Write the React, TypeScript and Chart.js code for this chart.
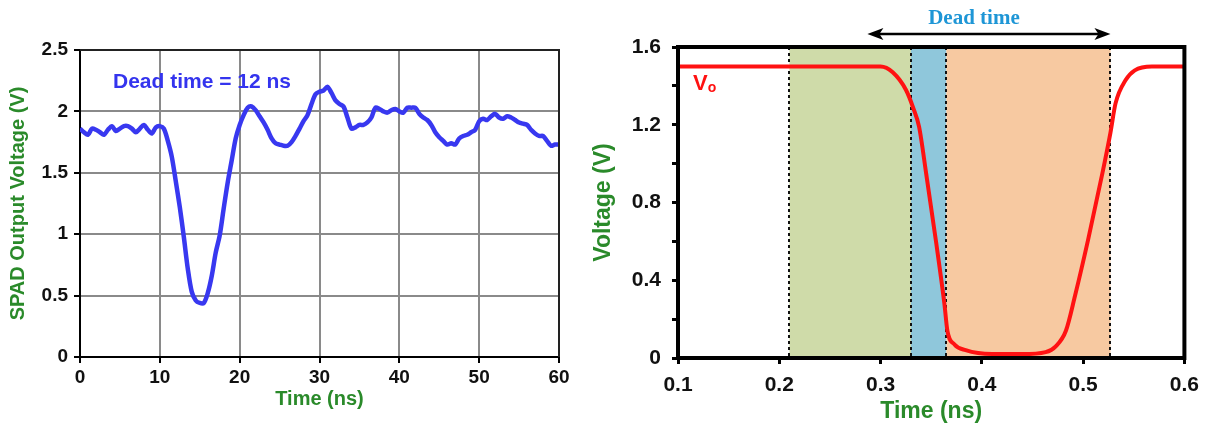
import React, { useEffect, useRef } from "react";
import { Chart, registerables } from "chart.js";

Chart.register(...registerables);

// ---------- Left chart data (SPAD output) ----------
const spadTime = [
  0, 0.5, 1, 1.5, 2, 2.5, 3, 3.5, 4, 4.5, 5, 5.5, 6, 6.5, 7, 7.5, 8, 8.5, 9, 9.5,
  10, 10.5, 11, 11.5, 12, 12.5, 13, 13.5, 14, 14.5, 15, 15.5, 16, 16.5, 17, 17.5, 18, 18.5, 19, 19.5,
  20, 20.5, 21, 21.5, 22, 22.5, 23, 23.5, 24, 24.5, 25, 25.5, 26, 26.5, 27, 27.5, 28, 28.5, 29, 29.5,
  30, 30.5, 31, 31.5, 32, 32.5, 33, 33.5, 34, 34.5, 35, 35.5, 36, 36.5, 37, 37.5, 38, 38.5, 39, 39.5,
  40, 40.5, 41, 41.5, 42, 42.5, 43, 43.5, 44, 44.5, 45, 45.5, 46, 46.5, 47, 47.5, 48, 48.5, 49, 49.5,
  50, 50.5, 51, 51.5, 52, 52.5, 53, 53.5, 54, 54.5, 55, 55.5, 56, 56.5, 57, 57.5, 58, 58.5, 59, 59.5, 60,
];
const spadVoltage = [
  1.86, 1.83, 1.81, 1.86, 1.85, 1.83, 1.81, 1.85, 1.88, 1.84, 1.86, 1.88, 1.88, 1.86, 1.83, 1.86, 1.89, 1.85, 1.82, 1.87,
  1.88, 1.86, 1.76, 1.63, 1.43, 1.22, 0.98, 0.72, 0.53, 0.46, 0.44, 0.44, 0.52, 0.66, 0.85, 0.99, 1.21, 1.42, 1.6, 1.78,
  1.89, 1.97, 2.03, 2.04, 2.01, 1.96, 1.91, 1.85, 1.78, 1.74, 1.73, 1.72, 1.72, 1.75, 1.8, 1.86, 1.92, 1.97, 2.06, 2.14,
  2.16, 2.17, 2.2, 2.15, 2.09, 2.06, 2.04, 1.95, 1.86, 1.87, 1.89, 1.89, 1.91, 1.95, 2.03, 2.02, 2.0, 1.99, 2.01, 2.02,
  2.0, 1.99, 2.03, 2.03, 2.03, 1.98, 1.95, 1.93, 1.89, 1.83, 1.79, 1.76, 1.73, 1.74, 1.73, 1.78, 1.8, 1.81, 1.83, 1.85,
  1.92, 1.94, 1.93, 1.96, 1.98, 1.95, 1.94, 1.96, 1.95, 1.93, 1.91, 1.9, 1.89, 1.85, 1.82, 1.8, 1.8, 1.76, 1.72, 1.73, 1.73,
];
const spadXRange = [0, 60];
const spadYRange = [0, 2.5];
const spadXStep = 10;
const spadYStep = 0.5;
const spadNote = "Dead time = 12 ns";

// ---------- Right chart data (Vo) ----------
const voTime = [
  0.1, 0.2, 0.29, 0.3, 0.312, 0.325, 0.332, 0.338, 0.345, 0.355, 0.363, 0.366, 0.373, 0.384,
  0.41, 0.44, 0.463, 0.473, 0.483, 0.492, 0.505, 0.519, 0.527, 0.532, 0.542, 0.551, 0.568, 0.6,
];
const voVoltage = [
  1.5, 1.5, 1.5, 1.5, 1.47, 1.38, 1.29, 1.19, 0.95, 0.59, 0.28, 0.14, 0.07, 0.04,
  0.02, 0.02, 0.03, 0.06, 0.14, 0.32, 0.61, 0.95, 1.16, 1.31, 1.43, 1.48, 1.5, 1.5,
];
const voXRange = [0.1, 0.6];
const voYRange = [0, 1.6];
const phaseBounds = [0.21, 0.33, 0.365, 0.527];
const phaseColors = ["#cfdba9", "#8fc7db", "#f7c9a1"];
const deadTimeArrow = [0.287, 0.527];
const deadTimeLabel = "Dead time";

const GREEN = "#2a8a2a";
const SANS = "'Liberation Sans', Arial, Helvetica, sans-serif";

function makeLeft(canvas: HTMLCanvasElement) {
  const frame = {
    id: "leftFrame",
    afterDatasetsDraw(chart: any) {
      const { ctx, chartArea: a } = chart;
      ctx.save();
      ctx.strokeStyle = "#222";
      ctx.lineWidth = 2;
      ctx.beginPath();
      ctx.moveTo(a.left, a.top);
      ctx.lineTo(a.right, a.top);
      ctx.lineTo(a.right, a.bottom);
      ctx.stroke();
      ctx.fillStyle = "#3434ee";
      ctx.font = `bold 21px ${SANS}`;
      ctx.textBaseline = "middle";
      ctx.textAlign = "left";
      ctx.fillText(spadNote, a.left + 33, a.top + 32);
      ctx.restore();
    },
  };
  return new Chart(canvas, {
    type: "line",
    data: {
      datasets: [
        {
          data: spadTime.map((t, i) => ({ x: t, y: spadVoltage[i] })),
          borderColor: "#3838f0",
          borderWidth: 4.5,
          pointRadius: 0,
          tension: 0.3,
          fill: false,
        },
      ],
    },
    options: {
      responsive: false,
      animation: false,
      layout: { padding: { top: 50, right: 31, left: 0, bottom: 0 } },
      plugins: { legend: { display: false }, tooltip: { enabled: false } },
      scales: {
        x: {
          type: "linear",
          min: spadXRange[0],
          max: spadXRange[1],
          ticks: {
            stepSize: spadXStep,
            color: "#111",
            maxRotation: 0,
            padding: 3,
            font: { family: SANS, size: 19, weight: "bold" },
            callback: (v: any) => String(Number(v)),
          },
          grid: { color: "#8a8a8a", lineWidth: 2, tickColor: "#000", tickLength: 6 },
          border: { color: "#000", width: 2 },
          title: {
            display: true,
            text: "Time (ns)",
            color: GREEN,
            font: { family: SANS, size: 20, weight: "bold" },
            padding: { top: 0, bottom: 14 },
          },
          afterFit: (s: any) => {
            s.height = 68;
          },
        },
        y: {
          type: "linear",
          min: spadYRange[0],
          max: spadYRange[1],
          ticks: {
            stepSize: spadYStep,
            color: "#111",
            padding: 6,
            font: { family: SANS, size: 19, weight: "bold" },
            callback: (v: any) => String(Math.round(Number(v) * 10) / 10),
          },
          grid: { color: "#8a8a8a", lineWidth: 2, tickColor: "#000", tickLength: 6 },
          border: { color: "#000", width: 2 },
          title: {
            display: true,
            text: "SPAD Output Voltage (V)",
            color: GREEN,
            font: { family: SANS, size: 20, weight: "bold" },
            padding: { top: 6, bottom: 0 },
          },
          afterFit: (s: any) => {
            s.width = 80;
          },
        },
      },
    },
    plugins: [frame],
  } as any);
}

function makeRight(canvas: HTMLCanvasElement) {
  const deco = {
    id: "rightDeco",
    beforeDatasetsDraw(chart: any) {
      const { ctx, chartArea: a, scales } = chart;
      const xs = scales.x;
      ctx.save();
      for (let i = 0; i < phaseColors.length; i++) {
        const x0 = xs.getPixelForValue(phaseBounds[i]);
        const x1 = xs.getPixelForValue(phaseBounds[i + 1]);
        ctx.fillStyle = phaseColors[i];
        ctx.fillRect(x0, a.top, x1 - x0, a.bottom - a.top);
      }
      ctx.strokeStyle = "#111";
      ctx.lineWidth = 2;
      ctx.setLineDash([3, 3]);
      for (const b of phaseBounds) {
        const x = Math.round(xs.getPixelForValue(b));
        ctx.beginPath();
        ctx.moveTo(x, a.top);
        ctx.lineTo(x, a.bottom);
        ctx.stroke();
      }
      ctx.restore();
    },
    afterDatasetsDraw(chart: any) {
      const { ctx, chartArea: a, scales } = chart;
      const xs = scales.x;
      ctx.save();
      ctx.strokeStyle = "#000";
      ctx.lineWidth = 4;
      ctx.strokeRect(a.left, a.top, a.right - a.left, a.bottom - a.top);

      // V_o label
      ctx.fillStyle = "#ff1111";
      ctx.textBaseline = "alphabetic";
      ctx.textAlign = "left";
      ctx.font = `bold 22px ${SANS}`;
      const vx = a.left + 15;
      const vy = a.top + 43;
      ctx.fillText("V", vx, vy);
      const vw = ctx.measureText("V").width;
      ctx.font = `bold 14px ${SANS}`;
      ctx.fillText("o", vx + vw, vy + 2);

      // Dead time arrow
      const ax0 = xs.getPixelForValue(deadTimeArrow[0]);
      const ax1 = xs.getPixelForValue(deadTimeArrow[1]);
      const ay = 34;
      ctx.strokeStyle = "#000";
      ctx.fillStyle = "#000";
      ctx.lineWidth = 2.5;
      ctx.beginPath();
      ctx.moveTo(ax0 + 8, ay);
      ctx.lineTo(ax1 - 8, ay);
      ctx.stroke();
      const head = (tip: number, dir: number) => {
        ctx.beginPath();
        ctx.moveTo(tip, ay);
        ctx.lineTo(tip + dir * 16, ay - 6);
        ctx.lineTo(tip + dir * 12, ay);
        ctx.lineTo(tip + dir * 16, ay + 6);
        ctx.closePath();
        ctx.fill();
      };
      head(ax0, 1);
      head(ax1, -1);

      ctx.fillStyle = "#1e96d6";
      ctx.font = `bold 21px 'Liberation Serif', 'Times New Roman', serif`;
      ctx.textAlign = "center";
      ctx.textBaseline = "middle";
      ctx.fillText(deadTimeLabel, (ax0 + ax1) / 2 - 15, 19);
      ctx.restore();
    },
  };
  return new Chart(canvas, {
    type: "line",
    data: {
      datasets: [
        {
          data: voTime.map((t, i) => ({ x: t, y: voVoltage[i] })),
          borderColor: "#ff1212",
          borderWidth: 4,
          pointRadius: 0,
          cubicInterpolationMode: "monotone",
          fill: false,
        },
      ],
    },
    options: {
      responsive: false,
      animation: false,
      layout: { padding: { top: 47, right: 22, left: 0, bottom: 0 } },
      plugins: { legend: { display: false }, tooltip: { enabled: false } },
      scales: {
        x: {
          type: "linear",
          min: voXRange[0],
          max: voXRange[1],
          ticks: {
            stepSize: 0.1,
            color: "#111",
            maxRotation: 0,
            padding: 9,
            font: { family: SANS, size: 21, weight: "bold" },
            callback: (v: any) => Number(v).toFixed(1),
          },
          grid: { drawOnChartArea: false, tickColor: "#000", tickLength: 6, tickWidth: 3 },
          border: { color: "#000", width: 4 },
          title: {
            display: true,
            text: "Time (ns)",
            color: GREEN,
            font: { family: SANS, size: 23, weight: "bold" },
            padding: { top: 0, bottom: 0 },
          },
          afterFit: (s: any) => {
            s.height = 67;
          },
        },
        y: {
          type: "linear",
          min: voYRange[0],
          max: voYRange[1],
          ticks: {
            stepSize: 0.2,
            color: "#111",
            padding: 11,
            font: { family: SANS, size: 21, weight: "bold" },
            callback: (v: any) => {
              const n = Number(v);
              const r = n / 0.4;
              if (Math.abs(r - Math.round(r)) > 1e-6) return "";
              return n === 0 ? "0" : n.toFixed(1);
            },
          },
          grid: { drawOnChartArea: false, tickColor: "#000", tickLength: 6, tickWidth: 3 },
          border: { color: "#000", width: 4 },
          title: {
            display: true,
            text: "Voltage (V)",
            color: GREEN,
            font: { family: SANS, size: 23, weight: "bold" },
            padding: { top: 0, bottom: 0 },
          },
          afterFit: (s: any) => {
            s.width = 88;
          },
        },
      },
    },
    plugins: [deco],
  } as any);
}

export default function App() {
  const leftRef = useRef<HTMLCanvasElement>(null);
  const rightRef = useRef<HTMLCanvasElement>(null);

  useEffect(() => {
    const l = makeLeft(leftRef.current!);
    const r = makeRight(rightRef.current!);
    return () => {
      l.destroy();
      r.destroy();
    };
  }, []);

  return (
    <div style={{ position: "fixed", left: 0, top: 0, width: 1208, height: 425, background: "#fff", overflow: "hidden" }}>
      <canvas ref={leftRef} width={590} height={425} style={{ position: "absolute", left: 0, top: 0, width: 590, height: 425 }} />
      <canvas ref={rightRef} width={618} height={425} style={{ position: "absolute", left: 590, top: 0, width: 618, height: 425 }} />
    </div>
  );
}
